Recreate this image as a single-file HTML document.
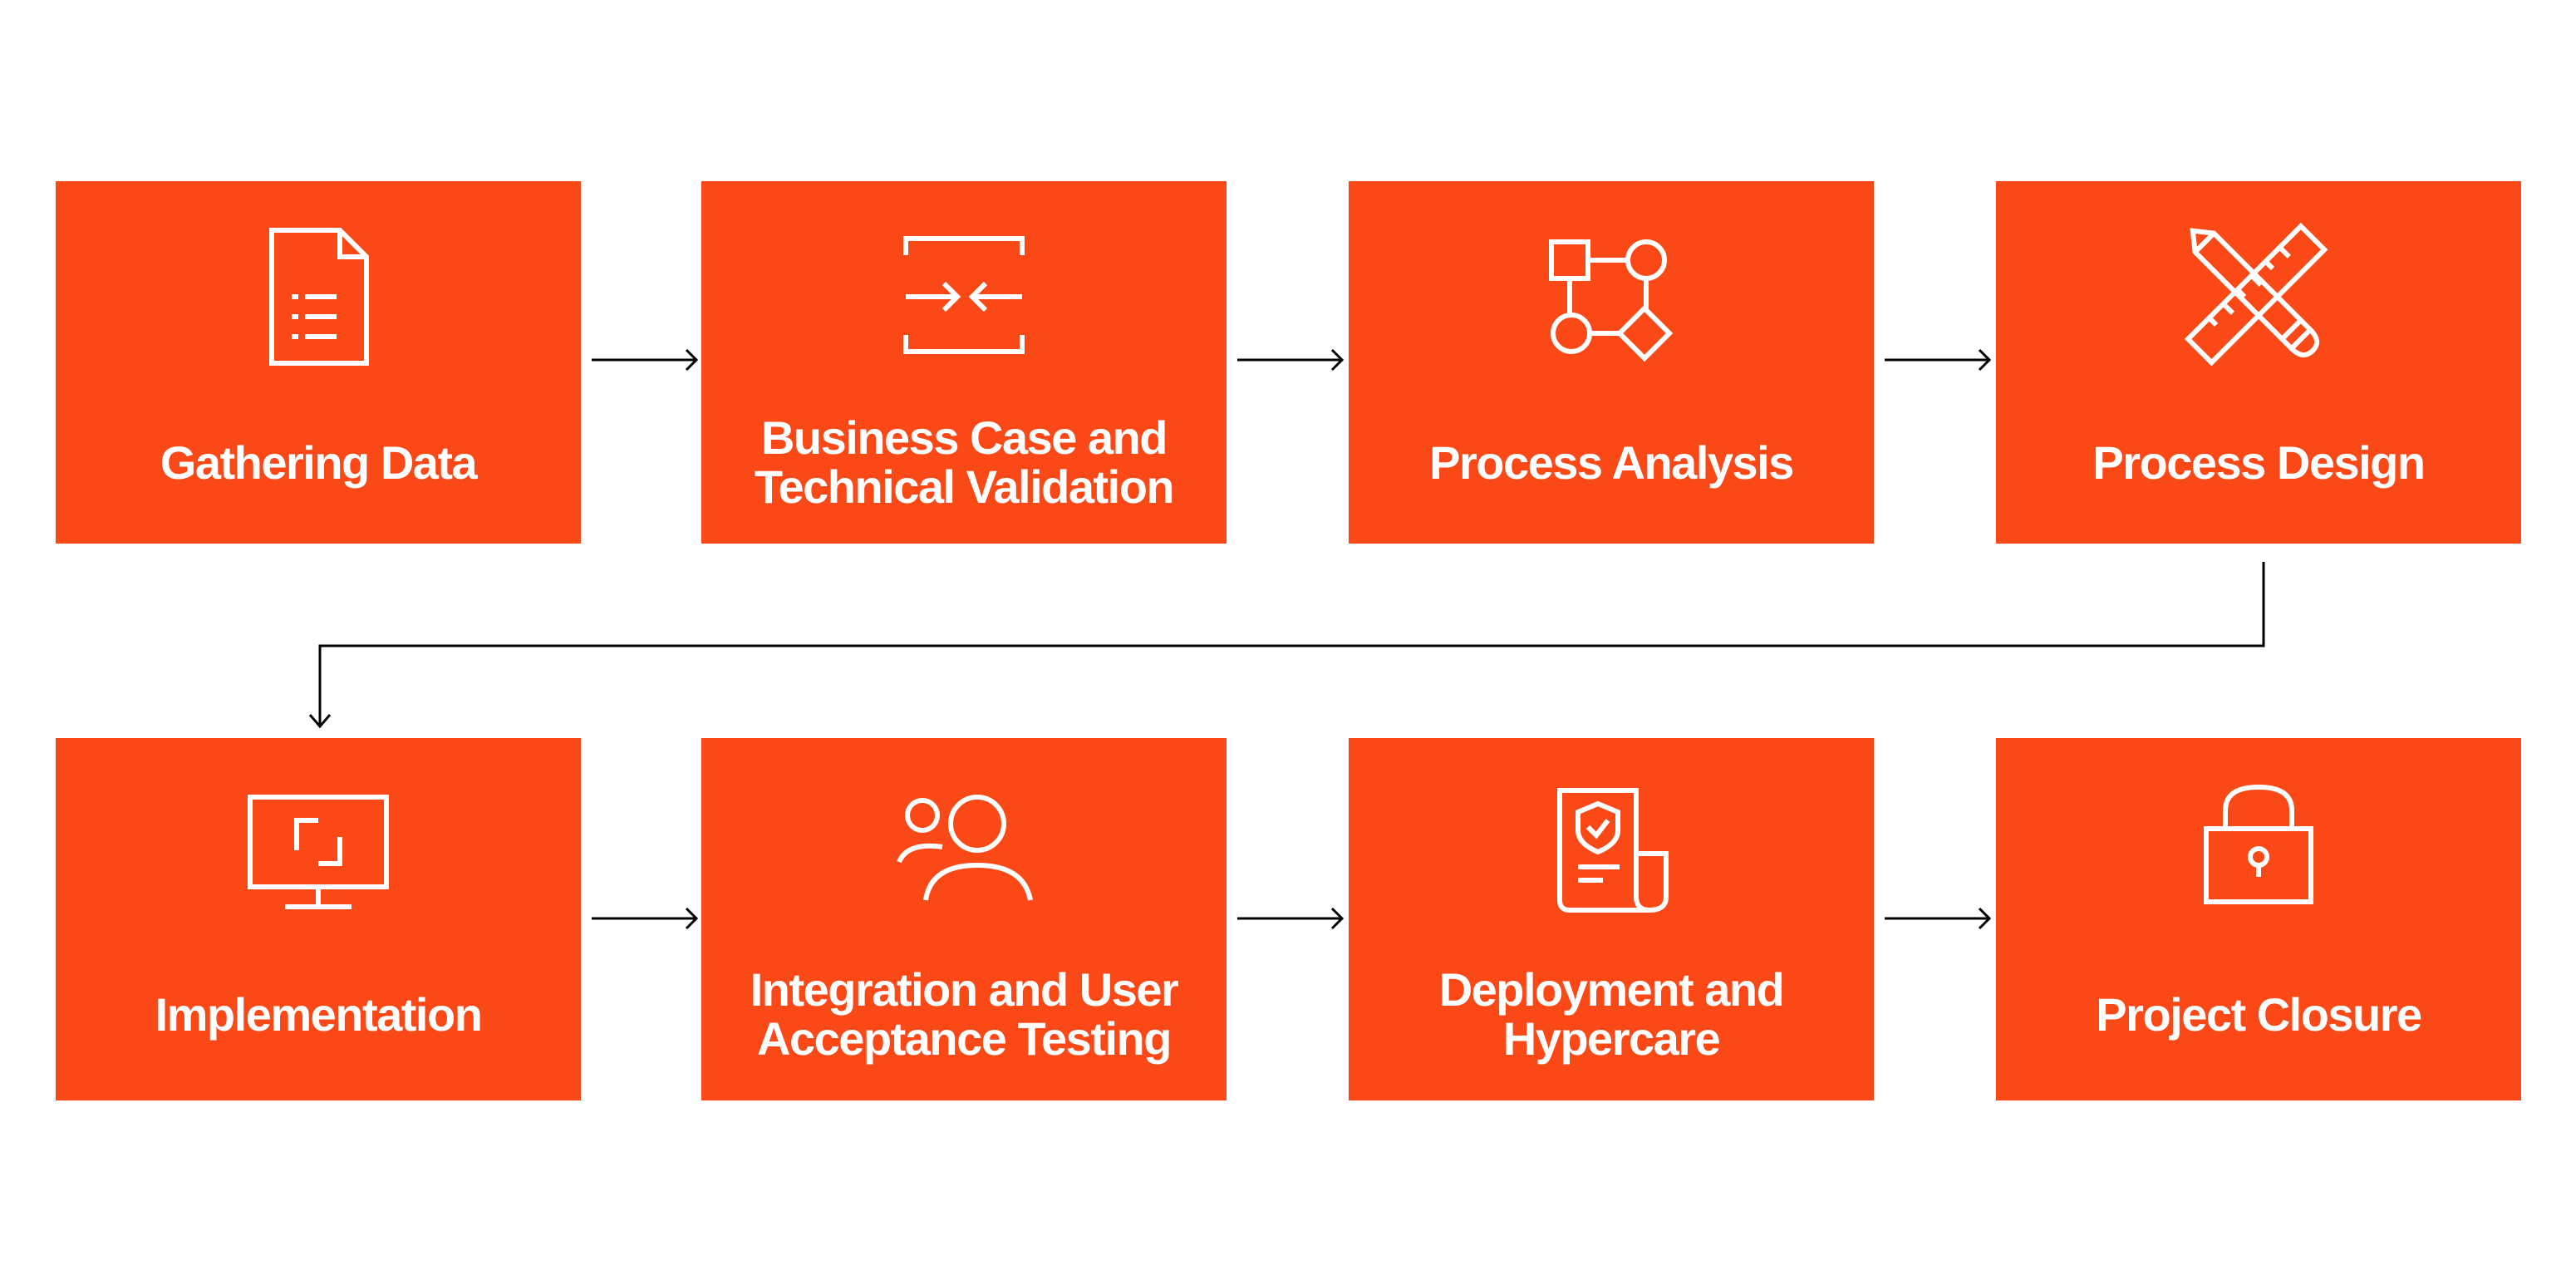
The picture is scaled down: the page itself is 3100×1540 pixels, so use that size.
<!DOCTYPE html>
<html><head><meta charset="utf-8"><style>
html,body{margin:0;padding:0;background:#fff}
#c{position:relative;width:3100px;height:1540px;overflow:hidden;font-family:"Liberation Sans",sans-serif}
.b{position:absolute;width:632px;height:436px;background:#FA4817}
.t{position:absolute;left:0;width:632px;text-align:center;color:#fff;font-weight:bold;font-size:56px;letter-spacing:-1.5px;line-height:59px}
.i{position:absolute;left:236px;top:59px;width:160px;height:160px;overflow:visible}
svg.ic{fill:none;stroke:#fff;stroke-width:3}
</style></head><body><div id="c">

<div class="b" style="left:67px;top:218px">
<svg class="i ic" viewBox="0 0 80 80"><path d="M12 0H53L69 16V80H12Z M53 0V16H69"/><path d="M24 40h4M32 40h19M24 52h4M32 52h19M24 64h4M32 64h19"/></svg>
<div class="t" style="top:309px">Gathering Data</div></div>

<div class="b" style="left:844px;top:218px">
<svg class="i ic" viewBox="0 0 80 80"><path d="M5 15V5H75V15M5 63V73H75V63"/><path d="M5 40H36M28 32L36 40L28 48M75 40H45M53 32L45 40L53 48"/></svg>
<div class="t" style="top:279px">Business Case and<br>Technical Validation</div></div>

<div class="b" style="left:1623px;top:218px">
<svg class="i ic" viewBox="0 0 80 80"><rect x="4" y="7" width="22" height="22"/><circle cx="61" cy="18" r="11"/><circle cx="16" cy="62" r="11"/><path d="M26 18H50M15 29V51M27 62H45M61 29V47M60 47L75 62L60 77L45 62Z"/></svg>
<div class="t" style="top:309px">Process Analysis</div></div>

<div class="b" style="left:2402px;top:218px">
<svg class="i ic" viewBox="0 0 80 80"><g transform="rotate(45 40 40)"><rect x="28" y="-8" width="20" height="96"/><path d="M28 10h8M28 22h6M28 34h8M28 46h6M28 58h8M28 70h6"/></g><g transform="rotate(-45 40 40)"><path d="M32 -6L40 -16L48 -6V76H32Z M32 -6H48 M32 68H48"/><path d="M32 76Q32 86 40 86Q48 86 48 76"/></g></svg>
<div class="t" style="top:309px">Process Design</div></div>

<div class="b" style="left:67px;top:888px">
<svg class="i ic" viewBox="0 0 80 80"><rect x="-1" y="6" width="82" height="54"/><path d="M40 60V72M20 72H60"/><path d="M27 38V20H40M53 30V46H40"/></svg>
<div class="t" style="top:303px">Implementation</div></div>

<div class="b" style="left:844px;top:888px">
<svg class="i ic" viewBox="0 0 80 80"><circle cx="15" cy="17" r="9"/><circle cx="48" cy="22" r="16"/><path d="M17 68Q20 47 48 47Q76 47 80 68"/><path d="M1 45Q6 33 27 36"/></svg>
<div class="t" style="top:273px">Integration and User<br>Acceptance Testing</div></div>

<div class="b" style="left:1623px;top:888px">
<svg class="i ic" viewBox="0 0 80 80"><path d="M9 2H55V66Q55 74 63 74H15Q9 74 9 68Z"/><path d="M55 40H73V66Q73 74 63 74"/><path d="M32 10L44 15V26Q44 34 32 39Q20 34 20 26V15Z"/><path d="M26 24L31 29L38 20M20 48H45M20 56H35"/></svg>
<div class="t" style="top:273px">Deployment and<br>Hypercare</div></div>

<div class="b" style="left:2402px;top:888px">
<svg class="i ic" viewBox="0 0 80 80"><rect x="8.5" y="25" width="63" height="44"/><path d="M20 25V14Q20 0 40 0Q60 0 60 14V25"/><circle cx="40" cy="42" r="5"/><path d="M40 47V54"/></svg>
<div class="t" style="top:303px">Project Closure</div></div>

<svg style="position:absolute;left:0;top:0" width="3100" height="1540">
<g fill="none" stroke="#000" stroke-width="3">
<path d="M712 433H836M826 421L838 433L826 445"/>
<path d="M1489 433H1613M1603 421L1615 433L1603 445"/>
<path d="M2268 433H2392M2382 421L2394 433L2382 445"/>
<path d="M712 1105H836M826 1093L838 1105L826 1117"/>
<path d="M1489 1105H1613M1603 1093L1615 1105L1603 1117"/>
<path d="M2268 1105H2392M2382 1093L2394 1105L2382 1117"/>
<path d="M2724 676V777H385V872M373 860L385 874L397 860"/>
</g></svg>
</div></body></html>
